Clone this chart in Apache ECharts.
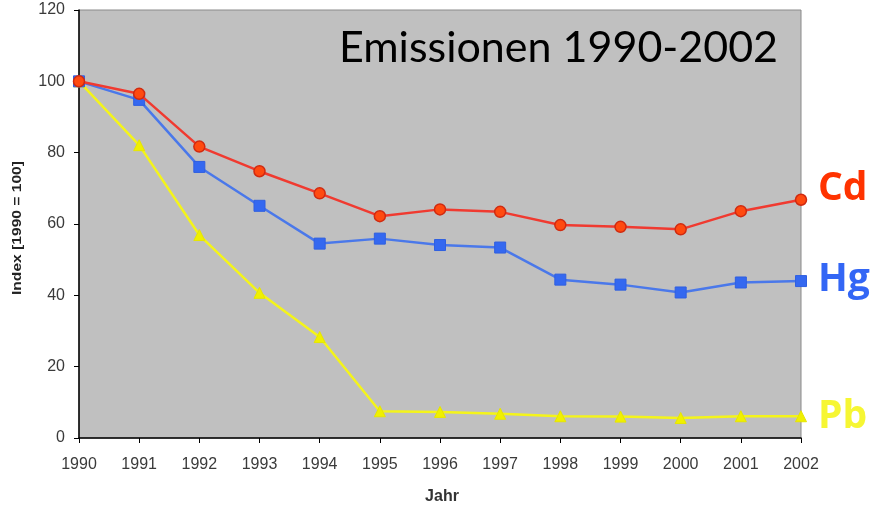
<!DOCTYPE html>
<html>
<head>
<meta charset="utf-8">
<script src="https://cdn.jsdelivr.net/npm/echarts@6/dist/echarts.min.js"></script>
<style>
  html, body { margin: 0; padding: 0; background: #ffffff; }
  #chart { width: 871px; height: 509px; }
</style>
</head>
<body>
<div id="chart"></div>
<script>
// Emission index per year (1990 = 100)
const years = ['1990','1991','1992','1993','1994','1995','1996','1997','1998','1999','2000','2001','2002'];
const cd = [100, 96.5, 81.7, 74.8, 68.6, 62.2, 64.1, 63.4, 59.7, 59.2, 58.5, 63.6, 66.8];
const hg = [100, 94.8, 76.0, 65.1, 54.5, 55.9, 54.1, 53.4, 44.4, 43.0, 40.8, 43.6, 44.0];
const pb = [100, 82.1, 56.9, 40.7, 28.3, 7.5, 7.3, 6.8, 6.1, 6.0, 5.6, 6.1, 6.1];
const yTicks = [0, 20, 40, 60, 80, 100, 120];

const chart = echarts.init(document.getElementById('chart'), null, { renderer: 'canvas' });

const tickFont = { color: '#3a3a3a', fontFamily: 'Liberation Sans, Arial, sans-serif', fontSize: 16 };

chart.setOption({
  animation: false,
  backgroundColor: '#ffffff',
  grid: {
    left: 79, right: 70, top: 10, bottom: 71,
    show: true,
    backgroundColor: '#c0c0c0',
    borderColor: '#8a8a8a',
    borderWidth: 1
  },
  xAxis: {
    type: 'category',
    data: years,
    boundaryGap: false,
    axisLine: { lineStyle: { color: '#000000', width: 1.5 } },
    axisTick: { show: true, length: 5, lineStyle: { color: '#000000' } },
    axisLabel: Object.assign({ margin: 19 }, tickFont),
    splitLine: { show: false }
  },
  yAxis: {
    type: 'value',
    min: yTicks[0],
    max: yTicks[yTicks.length - 1],
    interval: 20,
    axisLine: { show: true, lineStyle: { color: '#000000', width: 1.5 } },
    axisTick: { show: true, length: 5, lineStyle: { color: '#000000' } },
    axisLabel: Object.assign({ margin: 14 }, tickFont),
    splitLine: { show: false }
  },
  series: [
    {
      name: 'Pb', type: 'line', data: pb, z: 3,
      symbol: 'triangle', symbolSize: 11,
      lineStyle: { color: '#f4f41a', width: 2.5 },
      itemStyle: { color: '#f0f000', borderColor: '#e6e600', borderWidth: 1 }
    },
    {
      name: 'Hg', type: 'line', data: hg, z: 4,
      symbol: 'rect', symbolSize: 11,
      lineStyle: { color: '#4a78ea', width: 2.5 },
      itemStyle: { color: '#3468f0', borderColor: '#2f5fe0', borderWidth: 1 }
    },
    {
      name: 'Cd', type: 'line', data: cd, z: 5,
      symbol: 'circle', symbolSize: 11,
      lineStyle: { color: '#f03a30', width: 2.5 },
      itemStyle: { color: '#ff4a10', borderColor: '#d02a10', borderWidth: 1.5 }
    }
  ],
  graphic: [
    {
      type: 'text', left: 339, top: 27, z: 10,
      style: { text: 'Emissionen 1990-2002', fill: '#000000', font: '43px Lato, "Open Sans", sans-serif' }
    },
    {
      type: 'text', x: 818, y: 189, z: 10,
      style: { text: 'Cd', fill: '#ff3300', font: 'bold 39px "Open Sans", sans-serif', textVerticalAlign: 'middle' }
    },
    {
      type: 'text', x: 818, y: 280, z: 10,
      style: { text: 'Hg', fill: '#3366f5', font: 'bold 39px "Open Sans", sans-serif', textVerticalAlign: 'middle' }
    },
    {
      type: 'text', x: 818, y: 417, z: 10,
      style: { text: 'Pb', fill: '#f6f633', font: 'bold 39px "Open Sans", sans-serif', textVerticalAlign: 'middle' }
    },
    {
      type: 'text', x: 17, y: 228, rotation: Math.PI / 2, scaleX: 1.2, z: 10,
      style: { text: 'Index [1990 = 100]', fill: '#222222', font: 'bold 13px "Liberation Sans", Arial, sans-serif', textAlign: 'center', textVerticalAlign: 'middle' }
    },
    {
      type: 'text', x: 442, y: 497, z: 10,
      style: { text: 'Jahr', fill: '#333333', font: 'bold 16px "Liberation Sans", Arial, sans-serif', textAlign: 'center', textVerticalAlign: 'middle' }
    }
  ]
});
</script>
</body>
</html>
